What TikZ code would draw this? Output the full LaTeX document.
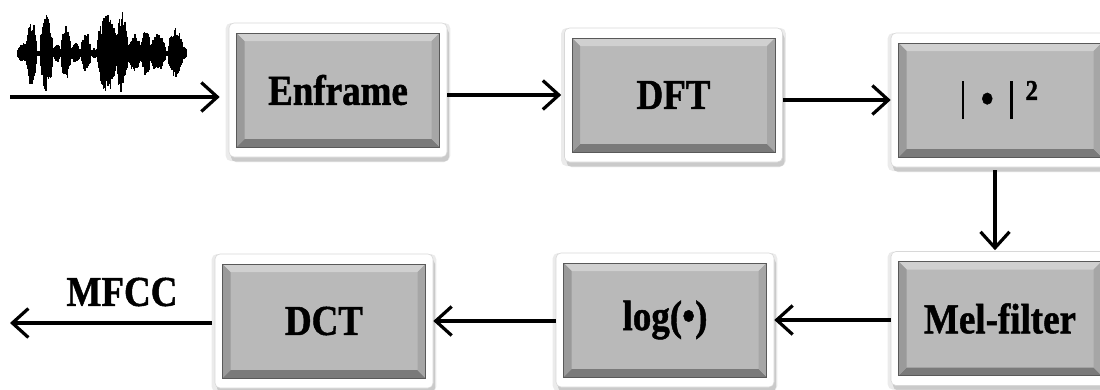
\documentclass[tikz,border=0pt]{standalone}
\usepackage{fontspec}
\setmainfont{Liberation Serif}[BoldFeatures={FakeBold=1.2}]
\usepackage{graphicx}
\usetikzlibrary{arrows.meta,shadows}
\definecolor{bvfill}{HTML}{B9B9B9}
\definecolor{bvtop}{HTML}{D0D0D0}
\definecolor{bvbot}{HTML}{7A7A7A}
\definecolor{bvleft}{HTML}{9A9A9A}
\definecolor{bvright}{HTML}{A6A6A6}
\definecolor{frameline}{HTML}{D8D8D8}
\newcommand{\lbl}[1]{\scalebox{1}[1.15]{\fontsize{37}{40}\selectfont\bfseries #1}}
\newcommand{\vbar}{\rule[-5.5pt]{2.2pt}{33pt}}
\tikzset{
  frame/.style={draw=frameline, line width=0.6pt, fill=white, rounded corners=5pt,
    minimum width=218pt, minimum height=134pt, inner sep=0pt,
    drop shadow={shadow xshift=2pt, shadow yshift=-5pt, fill=black, opacity=0.14},
    drop shadow={shadow xshift=0pt, shadow yshift=-2pt, shadow scale=1.03, fill=black, opacity=0.08}},
  bevelbox/.style={draw=gray!70!black, line width=0.4pt, fill=bvfill,
    minimum width=203pt, minimum height=114pt, inner sep=0pt,
    path picture={
      \fill[bvtop] (path picture bounding box.north west) -- (path picture bounding box.north east)
        -- ([xshift=-8pt,yshift=-8pt]path picture bounding box.north east)
        -- ([xshift=8pt,yshift=-8pt]path picture bounding box.north west) -- cycle;
      \fill[bvbot] (path picture bounding box.south west) -- (path picture bounding box.south east)
        -- ([xshift=-8pt,yshift=8pt]path picture bounding box.south east)
        -- ([xshift=8pt,yshift=8pt]path picture bounding box.south west) -- cycle;
      \fill[bvleft] (path picture bounding box.north west) -- (path picture bounding box.south west)
        -- ([xshift=8pt,yshift=8pt]path picture bounding box.south west)
        -- ([xshift=8pt,yshift=-8pt]path picture bounding box.north west) -- cycle;
      \fill[bvright] (path picture bounding box.north east) -- (path picture bounding box.south east)
        -- ([xshift=-8pt,yshift=8pt]path picture bounding box.south east)
        -- ([xshift=-8pt,yshift=-8pt]path picture bounding box.north east) -- cycle;
    }},
  arr/.style={line width=3.4pt, -{Straight Barb[length=16pt,width=29pt,line width=3.2pt]}},
  wave/.style={line width=1.4pt, black},
  labeltext/.style={inner sep=0pt}
}
\newcommand{\procbox}[4]{%
  \node[frame] (#1) at (#2,#3) {};
  \node[bevelbox] (#1i) at (#2,#3) {#4};
}
\begin{document}
\begin{tikzpicture}[x=1pt, y={(0pt,-1pt)}]
\useasboundingbox (0,0) rectangle (1100,389);

% waveform
\pgfmathsetseed{11}
\fill[black] (17,50.5) rectangle (187,55.5);
\foreach \s/\e/\a in {17/31/10, 26/37/34, 40/53/38, 53/61/9, 61/71/27, 70/81/10, 81/91/21, 91/98/6, 97/117/39, 116/128/41, 128/141/19, 141/151/23, 150/166/19, 168/183/25, 182/187/7}{
  \pgfmathsetmacro{\n}{int((\e-\s)/0.5)}
  \foreach \i in {0,...,\n}{
    \pgfmathsetmacro{\xx}{\s+\i*0.5}
    \pgfmathsetmacro{\env}{\a*sqrt(abs(sin(180*\i/\n)))}
    \pgfmathsetmacro{\up}{\env*(0.55+0.45*rnd)}
    \pgfmathsetmacro{\dn}{\env*(0.55+0.45*rnd)}
    \draw[wave] (\xx,53-\up) -- (\xx,53+\dn);
  }
}

% boxes
\procbox{enf}{338}{90}{\lbl{Enframe}}
\procbox{dft}{673.5}{95}{\lbl{DFT}}
\procbox{sq}{1000}{100}{\lbl{\vbar\hspace{0.45em}\textbullet\hspace{0.45em}\vbar\hspace{0.35em}\raisebox{0.3em}{\fontsize{25}{27}\selectfont\bfseries 2}}}
\procbox{mel}{1000}{318.5}{\lbl{Mel-filter}}
\procbox{log}{665}{320}{\lbl{log(\textbullet)}}
\procbox{dct}{324}{321}{\lbl{DCT}}

% connectors
\coordinate (in) at (10,97);
\coordinate (out) at (10,323);
\draw[arr, shorten >=9pt] (in) -- (in -| enf.west);
\draw[arr, shorten >=3pt] (enf.east |- dft.west) -- (dft.west);
\draw[arr] (dft.east |- sq.west) -- (sq.west);
\draw[arr, shorten <=3pt, shorten >=1pt] (sq.south -| 995,0) -- (mel.north -| 995,0);
\draw[arr] (mel.west |- log.east) -- (log.east);
\draw[arr] (log.west |- dct.east) -- (dct.east);
\draw[arr, shorten <=3pt] (out -| dct.west) -- (out);
\node[labeltext] (mfcc) at (122,292) {\lbl{MFCC}};
\end{tikzpicture}
\end{document}
